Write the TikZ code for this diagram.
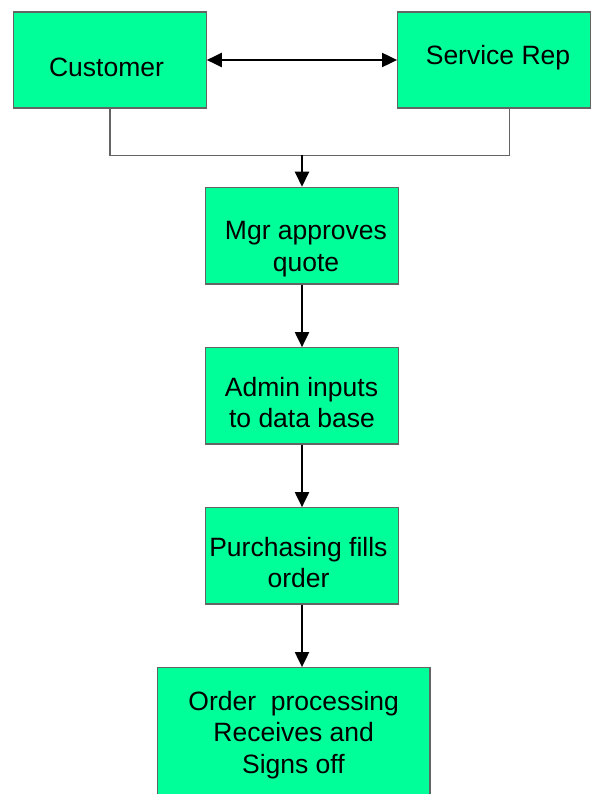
\documentclass[tikz,border=0pt]{standalone}
\usepackage{fontspec}
\setmainfont{Liberation Sans}
\usetikzlibrary{arrows.meta}
\definecolor{boxgreen}{RGB}{0,255,153}
\definecolor{edgegray}{RGB}{100,100,100}
\tikzset{
  flowbox/.style={draw=edgegray, line width=1.2pt, fill=boxgreen, rectangle, inner sep=0pt},
  txt/.style={anchor=base, inner sep=0pt, font=\fontsize{26.5}{31.3}\selectfont},
  thinline/.style={draw=edgegray, line width=1.2pt},
  flowarrow/.style={draw=black, line width=2pt, -{Triangle[length=15pt,width=14pt]}},
  twoarrow/.style={draw=black, line width=2pt, {Triangle[length=15pt,width=14pt]}-{Triangle[length=15pt,width=14pt]}}
}
\begin{document}
\begin{tikzpicture}[x=1pt,y=-1pt]
\useasboundingbox (0,0) rectangle (597,794);
\clip (0,0) rectangle (597,794);
% boxes
\node[flowbox, minimum width=192.6pt, minimum height=96pt] (cust) at (109.9,60) {};
\node[flowbox, minimum width=192.6pt, minimum height=96pt] (rep) at (494,60) {};
\node[flowbox, minimum width=192.6pt, minimum height=96.7pt] (mgr) at (302,235.7) {};
\node[flowbox, minimum width=192.6pt, minimum height=96.3pt] (admin) at (302,395.9) {};
\node[flowbox, minimum width=192.6pt, minimum height=96.3pt] (purch) at (302,555.9) {};
\node[flowbox, minimum width=272.3pt, minimum height=140pt] (order) at (293.8,737.7) {};
% texts
\node[txt] (custT) at (106.5,76.7) {Customer};
\node[txt] (repT) at (498,64.3) {Service Rep};
\node[txt] (mgrT1) at (306,240) {Mgr approves};
\node[txt] (mgrT2) at (306,271) {quote};
\node[txt] (adminT1) at (301.5,396.7) {Admin inputs};
\node[txt] (adminT2) at (302,427.3) {to data base};
\node[txt] (purchT1) at (298.4,556) {Purchasing fills};
\node[txt] (purchT2) at (298.5,587.3) {order};
\node[txt] (orderT1) at (293.7,710) {Order\ \ processing};
\node[txt] (orderT2) at (293.7,741.7) {Receives and};
\node[txt] (orderT3) at (293.4,773.3) {Signs off};
% connectors
\coordinate (jl) at (109.9,155.5);
\coordinate (jr) at (509.7,155.5);
\coordinate (jm) at (302,155.5);
\draw[twoarrow] (cust.east) -- (rep.west);
\draw[thinline] (cust.south) -- (jl) -- (jr) -- (jr |- rep.south);
\draw[flowarrow] (jm) -- (mgr.north);
\draw[flowarrow] (mgr.south) -- (admin.north);
\draw[flowarrow] (admin.south) -- (purch.north);
\draw[flowarrow] (purch.south) -- (purch.south |- order.north);
\end{tikzpicture}
\end{document}
